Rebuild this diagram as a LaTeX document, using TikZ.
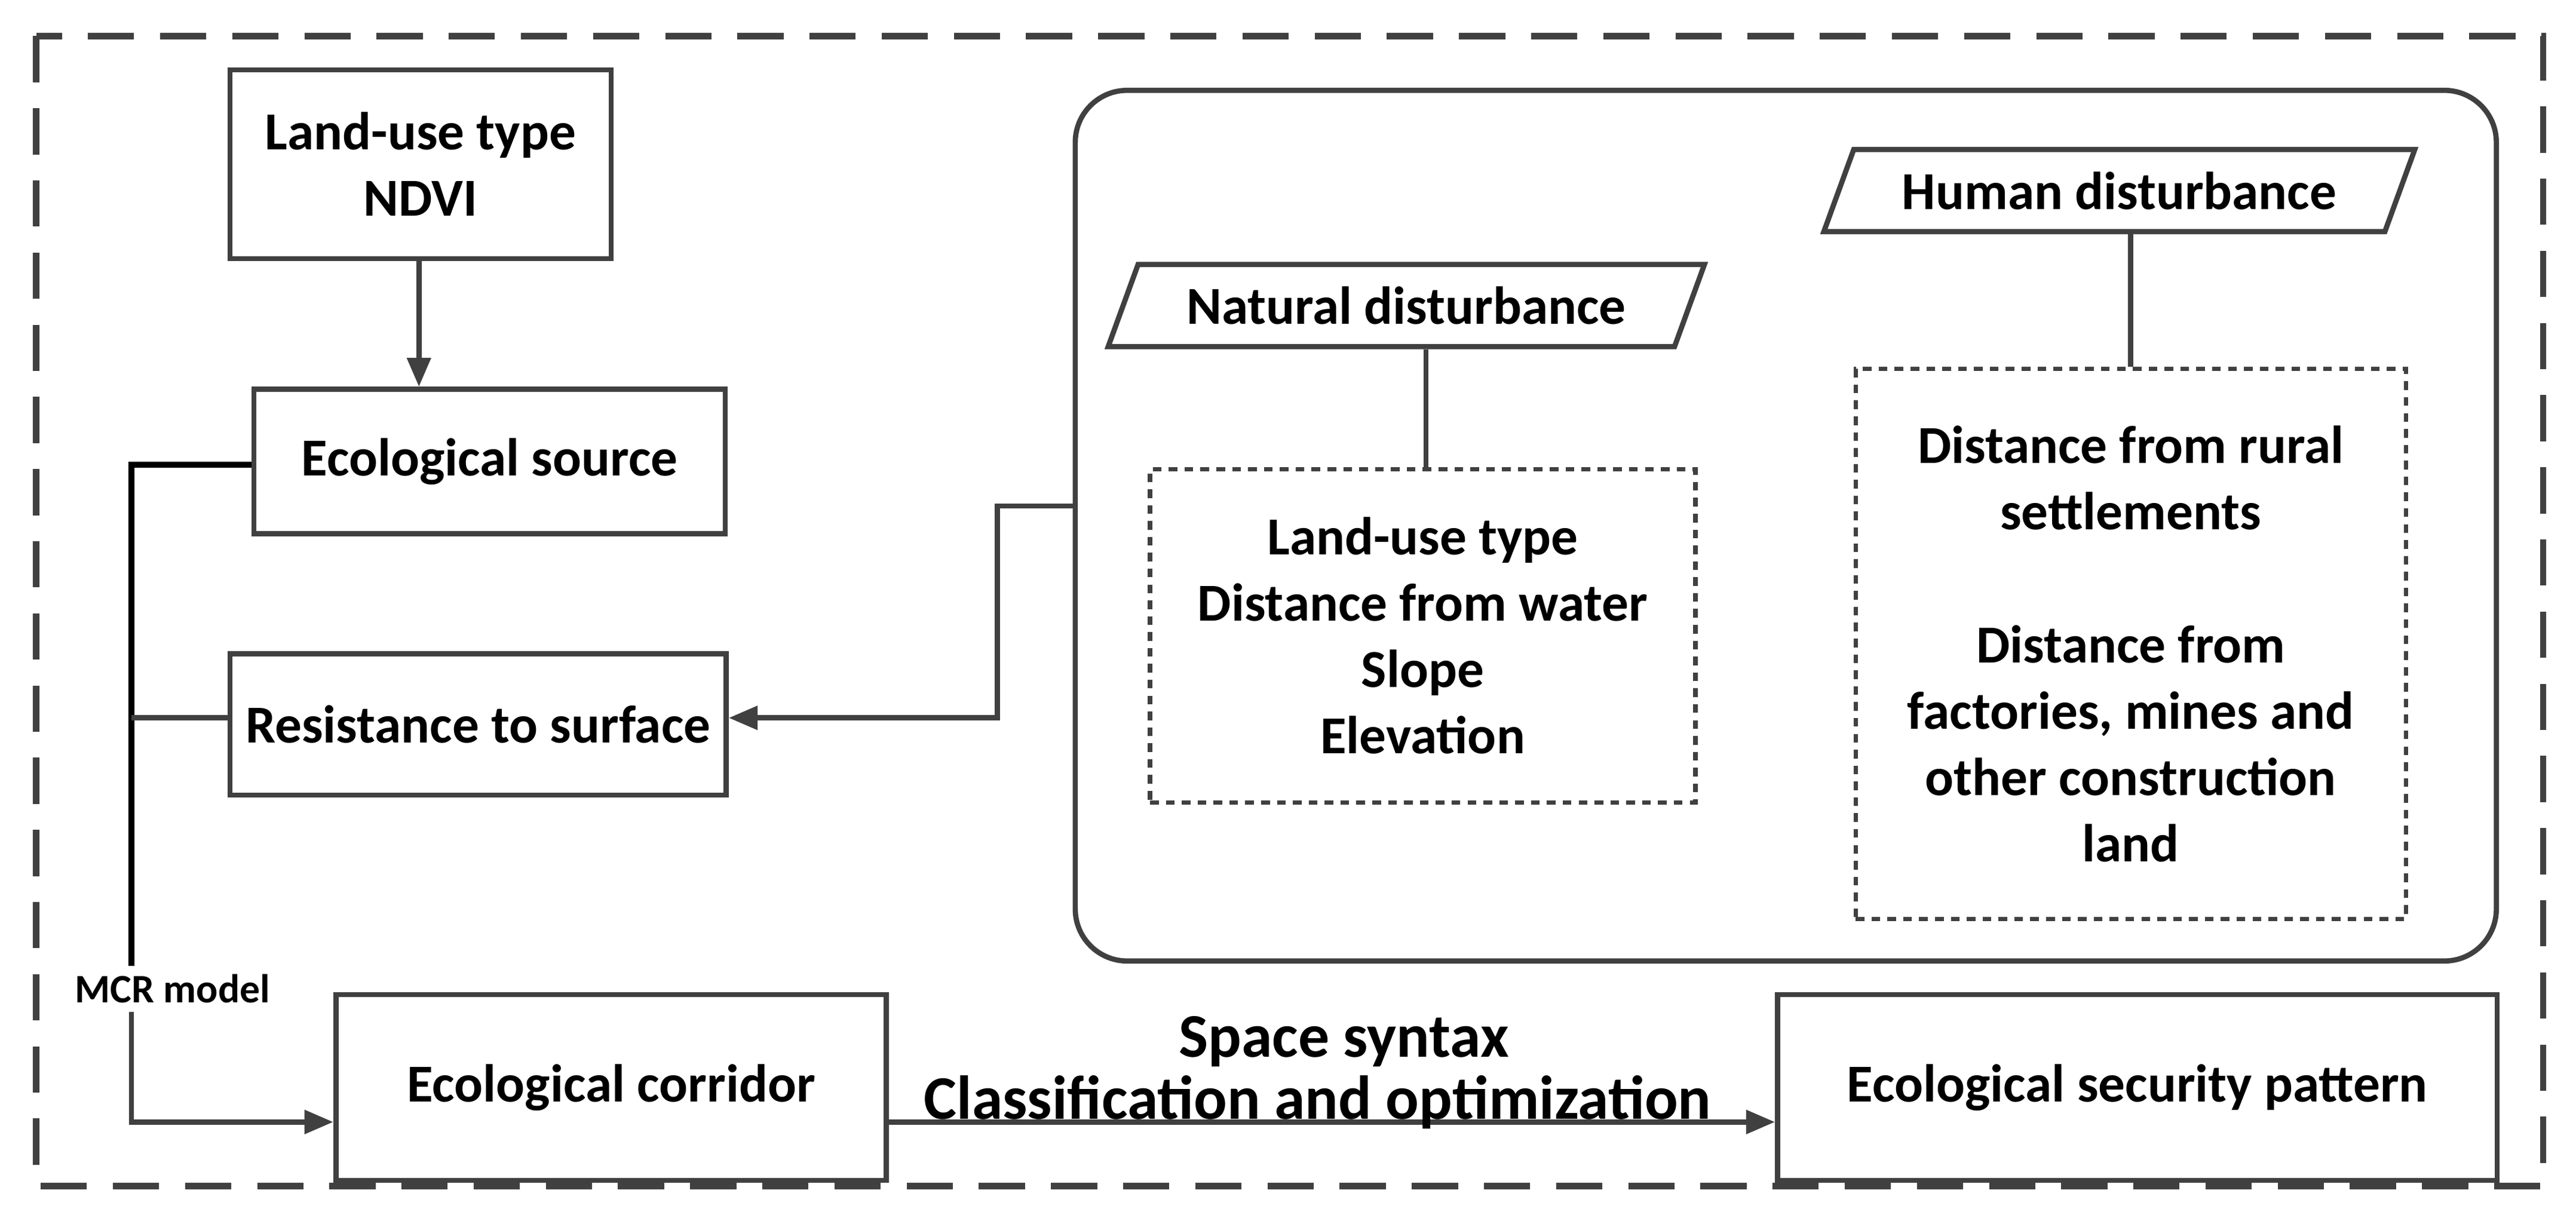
\documentclass[tikz,border=0pt]{standalone}
\usepackage{fontspec}
\setmainfont{Carlito}
\usetikzlibrary{shapes.geometric,arrows.meta}
\definecolor{ln}{HTML}{404040}
\begin{document}
\begin{tikzpicture}[x=0.02cm,y=-0.02cm,
  every node/.style={font=\fontsize{18.5}{23}\selectfont\bfseries, text=black},
  box/.style={draw=ln, line width=1.8pt, minimum width=#1*0.02cm, inner sep=0pt, align=center},
  para/.style={draw=ln, line width=1.8pt, trapezium, trapezium left angle=70, trapezium right angle=110, minimum height=1.0cm, inner sep=6pt},
  dot/.style={draw=ln, line width=1.5pt, dash pattern=on 3pt off 2.5pt, inner sep=0pt, align=center},
  con/.style={draw=ln, line width=1.8pt},
  arr/.style={con, -{Triangle[length=10pt,width=8pt]}},
  big label/.style={font=\fontsize{21.5}{24}\selectfont\bfseries}]
\useasboundingbox (0,0) rectangle (1568,743);
\draw[ln, line width=2.2pt, dash pattern=on 16pt off 9pt] (22,22) rectangle (1548,722);
\node[box=232, minimum height=115*0.02cm] (lu) at (256,100) {Land-use type\\NDVI};
\node[box=287, minimum height=88*0.02cm] (es) at (298,281) {Ecological source};
\node[box=302, minimum height=86*0.02cm] (rs) at (291,441) {Resistance to surface};
\node[draw=ln, line width=1.8pt, rounded corners=18pt, minimum width=865*0.02cm, minimum height=530*0.02cm] (big) at (1087,320) {};
\node[para, minimum width=335*0.02cm] (nd) at (856,186) {Natural disturbance};
\node[dot, minimum width=332*0.02cm, minimum height=203*0.02cm] (ndb) at (866,387) {Land-use type\\Distance from water\\Slope\\Elevation};
\node[para, minimum width=318*0.02cm] (hd) at (1290,116) {Human disturbance};
\node[dot, minimum width=335*0.02cm, minimum height=335*0.02cm] (hdb) at (1297,392) {Distance from rural\\settlements\\[23pt]Distance from\\factories, mines and\\other construction\\land};
\node[box=335, minimum height=113*0.02cm] (ec) at (372,662) {Ecological corridor};
\node[box=438, minimum height=113*0.02cm] (esp) at (1301,662) {Ecological security pattern};
\node[font=\fontsize{14}{16}\selectfont\bfseries] (mcr) at (105,602) {MCR model};
\coordinate (c1) at (80,283);
\coordinate (c2) at (80,437);
\coordinate (c3) at (80,588);
\coordinate (c4) at (80,616);
\coordinate (c5) at (80,683);
\coordinate (b1) at (607,308);
\coordinate (b2) at (607,437);
\coordinate (v1) at (255,0);
\coordinate (v2) at (868,0);
\coordinate (v3) at (1297,0);
\draw[arr] (lu.south -| v1) -- (es.north -| v1);
\draw[con, black, line width=2pt] (es.west |- c1) -- (c1) -- (c3);
\draw[con] (rs.west |- c2) -- (c2);
\draw[arr] (c4) -- (c5) -- (ec.west |- c5);
\draw[arr] (big.west |- b1) -- (b1) -- (b2) -- (rs.east |- b2);
\draw[con] (nd.south -| v2) -- (ndb.north -| v2);
\draw[con] (hd.south -| v3) -- (hdb.north -| v3);
\draw[arr] (ec.east |- c5) -- (esp.west |- c5);
\node[big label] (ss) at (818,634) {Space syntax};
\node[big label] (co) at (802,671) {Classification and optimization};
\end{tikzpicture}
\end{document}
